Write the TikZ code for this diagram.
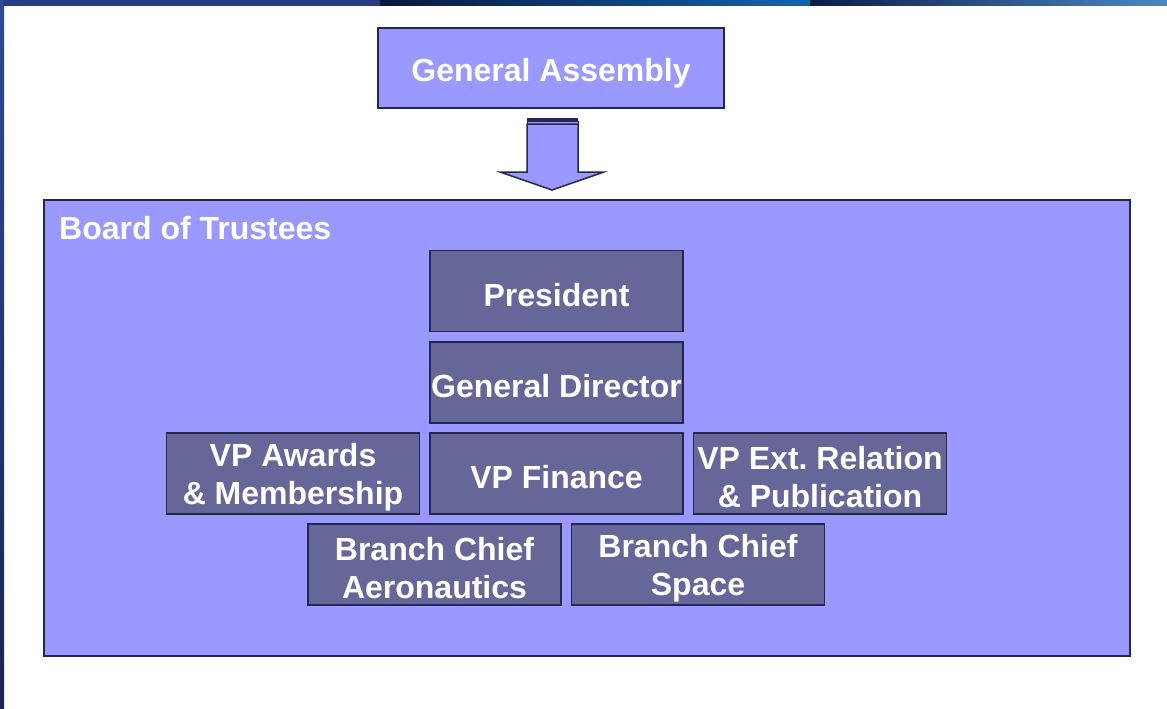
\documentclass[tikz,border=0pt]{standalone}
\usepackage{fontspec}
\setmainfont{Liberation Sans}
\frenchspacing
\definecolor{boardfill}{HTML}{9999FF}
\definecolor{boxfill}{HTML}{666699}
\definecolor{boxline}{HTML}{26264E}
\definecolor{barA}{HTML}{263C84}
\definecolor{barB1}{HTML}{0A1840}
\definecolor{barB2}{HTML}{1064B0}
\definecolor{barC1}{HTML}{0C1C4A}
\definecolor{barC2}{HTML}{4A88C8}
\definecolor{sideT}{HTML}{2A4A9A}
\definecolor{sideB}{HTML}{1A2355}
\tikzset{
  txt/.style={text=white, font=\fontsize{32}{38}\selectfont\bfseries, align=center, inner sep=0pt},
  lightbox/.style={draw=boxline, fill=boardfill, line width=1.5pt, inner sep=0pt},
  darkbox/.style={draw=boxline, fill=boxfill, line width=1.5pt, inner sep=0pt, minimum width=253pt, minimum height=81pt},
  boxtext/.style={txt, yshift=-4pt},
}
\begin{document}
\begin{tikzpicture}[x=1pt,y=-1pt]
\useasboundingbox (0,0) rectangle (1167,709);
\fill[white] (0,0) rectangle (1167,709);
% slide frame
\fill[barA] (0,0) rectangle (380,6);
\shade[left color=barB1, right color=barB2] (380,0) rectangle (810,6);
\shade[left color=barC1, right color=barC2] (810,0) rectangle (1167,6);
\shade[top color=sideT, bottom color=sideB] (0,0) rectangle (4,709);
% General Assembly
\node[lightbox, minimum width=346pt, minimum height=80pt] (ga) at (551,68) {};
\node[boxtext, yshift=-1pt] (gat) at (ga.center) {General Assembly};
% Board
\node[lightbox, minimum width=1086pt, minimum height=456pt] (board) at (587,428) {};
\node[txt, anchor=west] (boardlbl) at (59,228) {Board of Trustees};
% block arrow
\fill[boxline] (527,118) rectangle (578,121);
\draw[boxline, fill=boardfill, line width=1pt] (527,121) rectangle (578,124);
\draw[boxline, fill=boardfill, line width=1.5pt, line join=miter]
  (527,124) -- (578,124) -- (578,172) -- (604,172) -- (552,190) -- (500,172) -- (527,172) -- cycle;
% officers
\node[darkbox] (pres) at (556.5,291) {};
\node[boxtext] (prest) at (pres.center) {President};
\node[darkbox] (gd) at (556.5,382.5) {};
\node[boxtext] (gdt) at (gd.center) {General Director};
\node[darkbox] (vpa) at (293,473.5) {};
\node[boxtext] (vpat) at (vpa.center) {VP Awards\\\& Membership};
\node[darkbox] (vpf) at (556.5,473.5) {};
\node[boxtext] (vpft) at (vpf.center) {VP Finance};
\node[darkbox] (vpe) at (820,473.5) {};
\node[boxtext] (vpet) at (vpe.center) {VP Ext. Relation\\\& Publication};
\node[darkbox] (bca) at (434.5,564.5) {};
\node[boxtext] (bcat) at (bca.center) {Branch Chief\\Aeronautics};
\node[darkbox] (bcs) at (698,564.5) {};
\node[boxtext] (bcst) at (bcs.center) {Branch Chief\\Space};
\end{tikzpicture}
\end{document}
